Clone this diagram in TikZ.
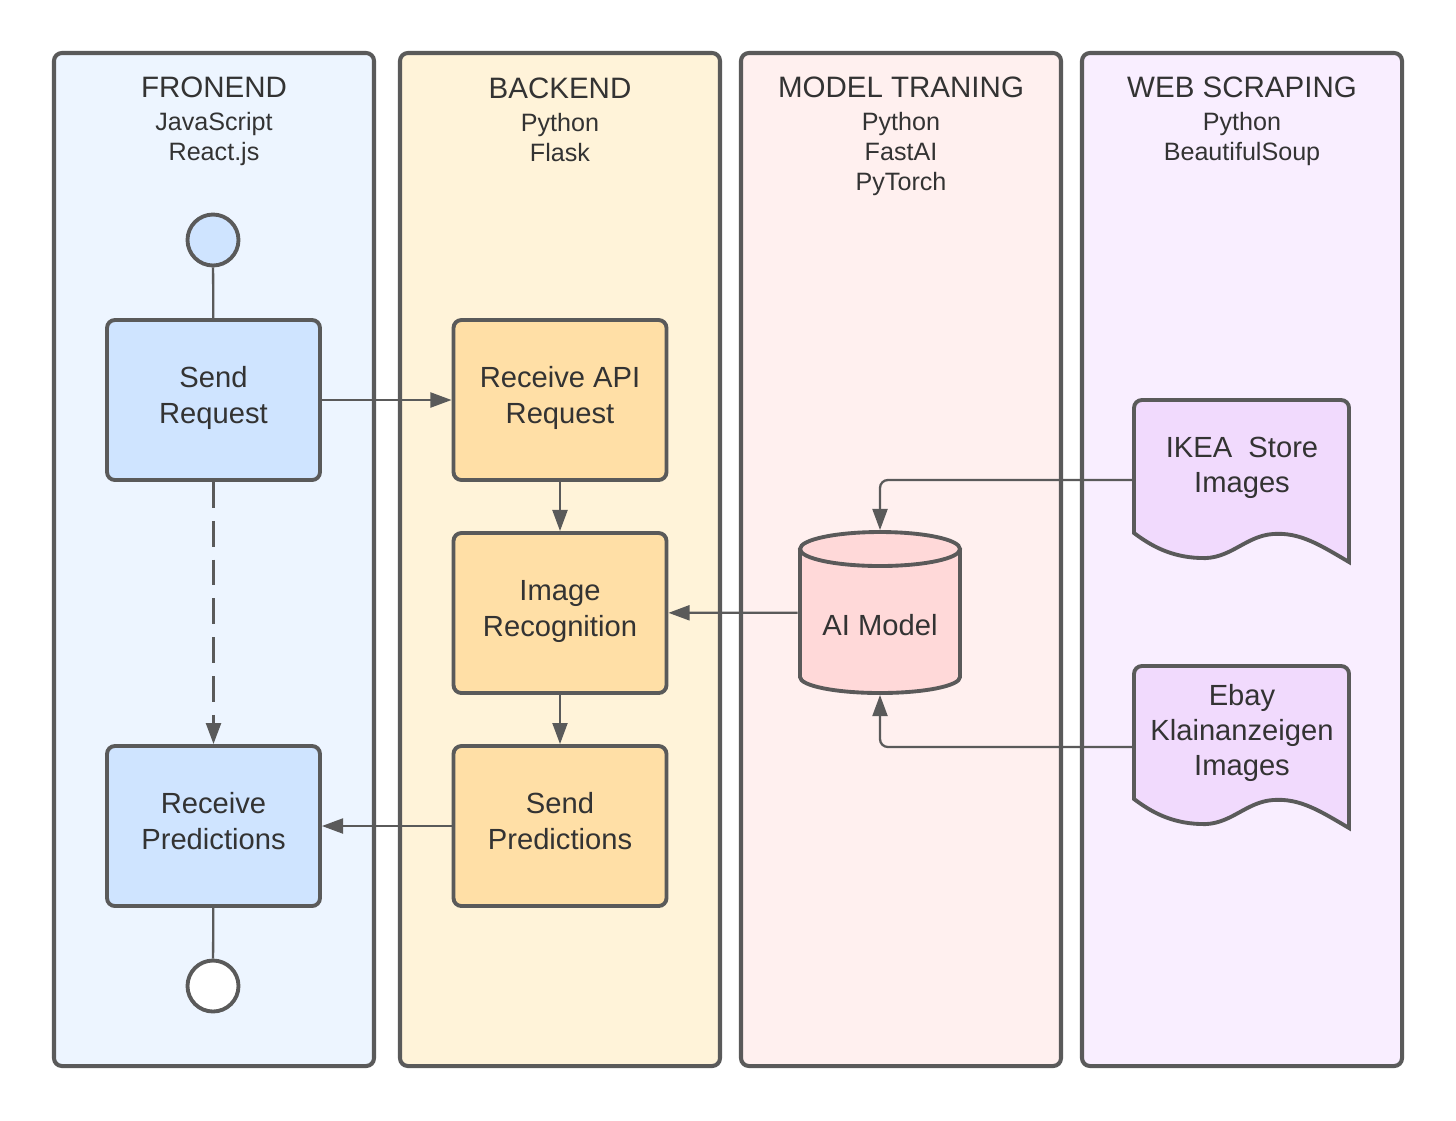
\documentclass[tikz,border=0pt]{standalone}
\usepackage{fontspec}
\setmainfont{Liberation Sans}
\usetikzlibrary{arrows.meta}
\definecolor{lineC}{HTML}{5A5A5A}
\definecolor{txtC}{HTML}{333333}
\definecolor{laneA}{HTML}{EDF5FF}
\definecolor{laneB}{HTML}{FFF3D9}
\definecolor{laneC}{HTML}{FFF0EF}
\definecolor{laneD}{HTML}{F9EEFF}
\definecolor{boxA}{HTML}{CFE4FF}
\definecolor{boxB}{HTML}{FFDFA6}
\definecolor{boxC}{HTML}{FFD9D9}
\definecolor{boxD}{HTML}{F1DAFD}
\newlength{\pxu}
\setlength{\pxu}{0.02cm}
\tikzset{
  lane/.style={draw=lineC, line width=2.3pt, rounded corners=4.5pt},
  titletxt/.style={text=txtC, font=\fontsize{16.8pt}{19pt}\selectfont, anchor=base, inner sep=0pt},
  subtxt/.style={text=txtC, font=\fontsize{14.3pt}{17pt}\selectfont, anchor=base, inner sep=0pt},
  procbox/.style={draw=lineC, line width=2.2pt, rounded corners=4.5pt, minimum width=213\pxu, minimum height=160\pxu, text=txtC, align=center, font=\fontsize{16.6pt}{20.4pt}\selectfont, text depth=5.5pt, outer sep=1.1pt},
  ghost/.style={inner sep=0pt, outer sep=1.1pt, text=txtC, align=center, font=\fontsize{16.6pt}{19.8pt}\selectfont},
  evt/.style={circle, draw=lineC, line width=2.2pt, minimum size=51\pxu, inner sep=0pt, outer sep=1.1pt},
  conn/.style={draw=lineC, line width=1.3pt, rounded corners=4.5pt},
  tip/.style={-{Triangle[length=12pt,width=8.5pt]}},
}
\begin{document}
\begin{tikzpicture}[x=0.02cm, y=-0.02cm]
\useasboundingbox (0,0) rectangle (1456,1120);
\fill[white] (0,0) rectangle (1456,1120);

% lanes
\path[lane, fill=laneA] (54,53) rectangle (374,1066);
\path[lane, fill=laneB] (400,53) rectangle (720,1066);
\path[lane, fill=laneC] (741,53) rectangle (1061,1066);
\path[lane, fill=laneD] (1082,53) rectangle (1402,1066);

% titles
\node[titletxt] (t1) at (214,97) {FRONEND};
\node[subtxt] (s1a) at (214,130) {JavaScript};
\node[subtxt] (s1b) at (214,160) {React.js};
\node[titletxt] (t2) at (560,98) {BACKEND};
\node[subtxt] (s2a) at (560,131) {Python};
\node[subtxt] (s2b) at (560,161) {Flask};
\node[titletxt] (t3) at (901,97) {MODEL TRANING};
\node[subtxt] (s3a) at (901,130) {Python};
\node[subtxt] (s3b) at (901,160) {FastAI};
\node[subtxt] (s3c) at (901,190) {PyTorch};
\node[titletxt] (t4) at (1242,97) {WEB SCRAPING};
\node[subtxt] (s4a) at (1242,130) {Python};
\node[subtxt] (s4b) at (1242,160) {BeautifulSoup};

% frontend
\node[evt, fill=boxA] (start) at (213,240) {};
\node[procbox, fill=boxA] (sreq) at (213.5,400) {Send\\Request};
\node[procbox, fill=boxA] (rpred) at (213.5,826) {Receive\\Predictions};
\node[evt, fill=white] (end) at (213,986) {};

% backend
\node[procbox, fill=boxB] (rapi) at (560,400) {Receive API\\Request};
\node[procbox, fill=boxB] (imrec) at (560,613) {Image\\Recognition};
\node[procbox, fill=boxB] (spred) at (560,826) {Send\\Predictions};

% AI model cylinder
\node[ghost, minimum width=161\pxu, minimum height=161\pxu] (ai) at (880,612.5) {};
\fill[boxC] (800,549) -- (800,677) arc[start angle=180, end angle=360, x radius=80, y radius=-16] -- (960,549) -- cycle;
\draw[lineC, line width=2.2pt] (800,549) -- (800,677) arc[start angle=180, end angle=360, x radius=80, y radius=-16] -- (960,549);
\draw[lineC, line width=2.2pt, fill=boxC] (880,549) ellipse[x radius=80, y radius=17];
\node[text=txtC, font=\fontsize{16.6pt}{19.8pt}\selectfont] (ailbl) at (880,625) {AI Model};

% documents
\node[ghost, minimum width=215\pxu, minimum height=160\pxu] (ikea) at (1241.5,480) {};
\node[ghost, minimum width=215\pxu, minimum height=162\pxu] (ebay) at (1241.5,747) {};
\draw[lineC, line width=2.2pt, fill=boxD, rounded corners=4.5pt]
  (1134,533) -- (1134,400) -- (1349,400) [sharp corners] -- (1349,562)
  .. controls (1320,545) and (1300,532) .. (1273,534)
  .. controls (1245,536) and (1230,560) .. (1200,558)
  .. controls (1170,557) and (1150,545) .. (1134,533) -- cycle;
\draw[lineC, line width=2.2pt, fill=boxD, rounded corners=4.5pt]
  (1134,799) -- (1134,666) -- (1349,666) [sharp corners] -- (1349,828)
  .. controls (1320,811) and (1300,798) .. (1273,800)
  .. controls (1245,802) and (1230,826) .. (1200,824)
  .. controls (1170,823) and (1150,811) .. (1134,799) -- cycle;
\node[ghost] (ikeal) at (1242,468) {IKEA\ \ Store\\Images};
\node[ghost] (ebayl) at (1242,733) {Ebay\\Klainanzeigen\\Images};

% connectors
\draw[conn] (start) -- (sreq);
\draw[conn] (rpred) -- (end);
\draw[conn, tip] (sreq) -- (rapi);
\draw[conn, tip] (rapi) -- (imrec);
\draw[conn, tip] (imrec) -- (spred);
\draw[conn, tip] (ai) -- (imrec);
\draw[conn, tip] (spred) -- (rpred);
\draw[conn, tip, line width=1.5pt, dash pattern=on 14.7pt off 7.4pt] (sreq) -- (rpred);
\draw[conn, tip] (ikea.west) -| (ai.north);
\draw[conn, tip] (ebay.west) -| (ai.south);
\end{tikzpicture}
\end{document}
